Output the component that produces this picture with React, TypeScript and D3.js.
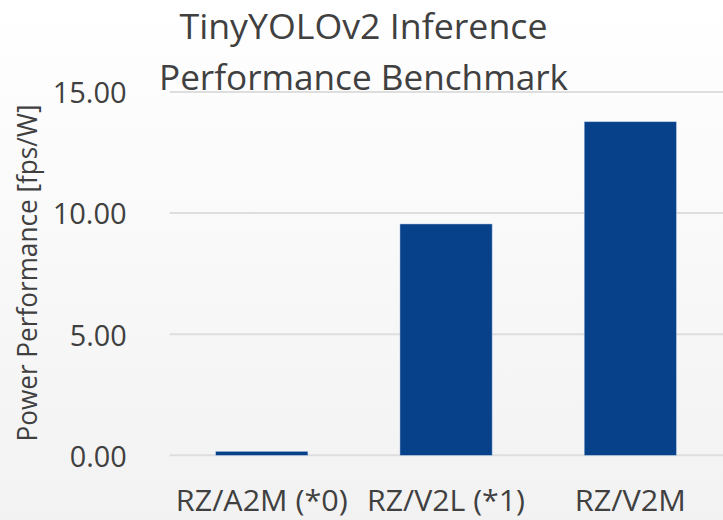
import React, { useEffect } from 'react';
import * as d3 from 'd3';

// chart data
const categories = ['RZ/A2M (*0)', 'RZ/V2L (*1)', 'RZ/V2M'];
const values = [0.16, 9.55, 13.77];
const yTicks = [0, 5, 10, 15];
const titleLines = ['TinyYOLOv2 Inference', 'Performance Benchmark'];
const yTitle = 'Power Performance [fps/W]';

const W = 723;
const H = 520;
const FONT = "'Open Sans', 'Noto Sans', sans-serif";
const TEXT = '#404040';

// measured text widths from the reference (its font is narrower)
const catWidths = [172, 158, 111];
const tickWidth = (v: number) => (v >= 10 ? 74 : 57);

export default function App() {
  useEffect(() => {
    document.body.style.margin = '0';
  }, []);

  const x = d3
    .scaleBand<string>()
    .domain(categories)
    .range([169.7, 722.4])
    .paddingInner(0.5)
    .paddingOuter(0.25);
  const y = d3.scaleLinear().domain([0, 15]).range([455.3, 92]);

  return (
    <svg width={W} height={H} style={{ display: 'block' }}>
      <defs>
        <linearGradient id="bg" x1="0" y1="0" x2="0" y2="1">
          <stop offset="0" stopColor="#ffffff" />
          <stop offset="1" stopColor="#f2f2f2" />
        </linearGradient>
      </defs>
      <rect width={W} height={H} fill="url(#bg)" />

      {/* gridlines */}
      {yTicks.map((t) => (
        <line
          key={'g' + t}
          x1={169.7}
          x2={W}
          y1={y(t)}
          y2={y(t)}
          stroke="#dedede"
          strokeWidth={2}
        />
      ))}

      {/* bars */}
      {categories.map((c, i) => (
        <rect
          key={c}
          x={x(c)}
          y={y(values[i])}
          width={x.bandwidth()}
          height={y(0) - y(values[i])}
          fill="#07418a"
          stroke="#a9c2e0"
          strokeWidth={0.5}
        />
      ))}

      {/* y tick labels */}
      {yTicks.map((t) => (
        <text
          key={'t' + t}
          x={126.7}
          y={y(t) + 11.3}
          textAnchor="end"
          fontFamily={FONT}
          fontSize={30}
          fill={TEXT}
          textLength={tickWidth(t)}
          lengthAdjust="spacingAndGlyphs"
        >
          {d3.format('.2f')(t)}
        </text>
      ))}

      {/* category labels */}
      {categories.map((c, i) => (
        <text
          key={'c' + c}
          x={(x(c) as number) + x.bandwidth() / 2}
          y={510.5}
          textAnchor="middle"
          fontFamily={FONT}
          fontSize={29}
          fill={TEXT}
          textLength={catWidths[i]}
          lengthAdjust="spacingAndGlyphs"
        >
          {c}
        </text>
      ))}

      {/* y axis title */}
      <text
        transform={`translate(37, 273) rotate(-90)`}
        textAnchor="middle"
        fontFamily={FONT}
        fontSize={27}
        fill={TEXT}
        textLength={337}
        lengthAdjust="spacingAndGlyphs"
      >
        {yTitle}
      </text>

      {/* title */}
      {titleLines.map((l, i) => (
        <text
          key={l}
          x={363.5}
          y={38.5 + i * 51}
          textAnchor="middle"
          fontFamily={FONT}
          fontSize={35}
          fill={TEXT}
          textLength={i === 0 ? 368 : 409}
          lengthAdjust="spacingAndGlyphs"
        >
          {l}
        </text>
      ))}
    </svg>
  );
}
